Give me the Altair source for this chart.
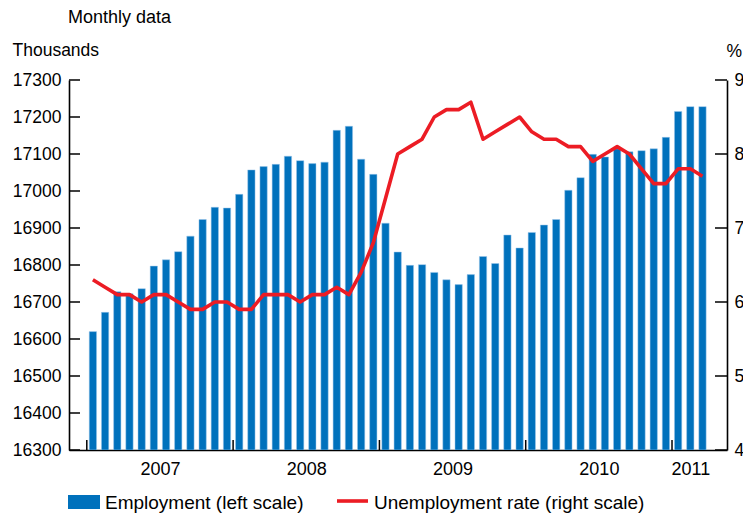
import altair as alt
import pandas as pd

# Monthly data, Jan 2007 – Mar 2011
employment = [
    16620, 16672, 16728, 16722, 16736, 16797, 16814, 16836, 16878, 16923, 16956, 16954,
    16991, 17057, 17066, 17072, 17094, 17082, 17074, 17078, 17164, 17175, 17086, 17045,
    16913, 16835, 16799, 16801, 16780, 16760, 16747, 16774, 16823, 16804, 16881, 16846,
    16888, 16908, 16923, 17002, 17036, 17099, 17092, 17114, 17106, 17109, 17114, 17145,
    17215, 17228, 17228,
]
unemployment = [
    6.3, 6.2, 6.1, 6.1, 6.0, 6.1, 6.1, 6.0, 5.9, 5.9, 6.0, 6.0,
    5.9, 5.9, 6.1, 6.1, 6.1, 6.0, 6.1, 6.1, 6.2, 6.1, 6.4, 6.8,
    7.4, 8.0, 8.1, 8.2, 8.5, 8.6, 8.6, 8.7, 8.2, 8.3, 8.4, 8.5,
    8.3, 8.2, 8.2, 8.1, 8.1, 7.9, 8.0, 8.1, 8.0, 7.8, 7.6, 7.6,
    7.8, 7.8, 7.7,
]
years = ["2007", "2008", "2009", "2010", "2011"]
year_label_pos = [6, 18, 30, 42, 49.5]
year_ticks = [0, 12, 24, 36, 48]
left_ticks = [16300, 16400, 16500, 16600, 16700, 16800, 16900, 17000, 17100, 17200, 17300]
right_ticks = [4, 5, 6, 7, 8, 9]

W, H = 658, 370
FONT = "Liberation Sans"
FS = 17.5
LFS = 19
BLUE = "#0071BC"
RED = "#EC1C24"

df = pd.DataFrame({
    "m": [i + 0.5 for i in range(len(employment))],
    "emp": employment,
    "unemp": unemployment,
    "base": [left_ticks[0]] * len(employment),
})

xscale = alt.Scale(domain=[-1.05, 52.1], nice=False, zero=False)
lscale = alt.Scale(domain=[16300, 17300], nice=False, zero=False)
rscale = alt.Scale(domain=[4, 9], nice=False, zero=False)

label_expr = " : ".join(
    f"datum.value == {p} ? '{y}'" for p, y in zip(year_label_pos, years)
) + " : ''"

xaxis = alt.Axis(
    values=year_label_pos, labelExpr=label_expr, ticks=False, grid=False,
    domainColor="black", domainWidth=1.6, labelFontSize=18, labelFont=FONT,
    labelColor="black", labelPadding=10, labelOverlap=False, labelFlush=False,
    title=None)

laxis = alt.Axis(
    values=left_ticks, format="d", ticks=False, grid=False, domainColor="black",
    domainWidth=1.6, labelFontSize=FS, labelFont=FONT, labelColor="black",
    labelPadding=8, labelFlush=False, labelOverlap=False, labelBound=False,
    title="Thousands", titleAngle=0, titleAlign="left", titleBaseline="middle",
    titleX=-57, titleY=-30, titleFontSize=FS, titleFont=FONT,
    titleFontWeight="normal", titleColor="black")

raxis = alt.Axis(
    orient="right", values=right_ticks, format="d", ticks=False, grid=False,
    domainColor="black", domainWidth=1.6, labelFontSize=FS, labelFont=FONT,
    labelColor="black", labelPadding=7, labelFlush=False, labelOverlap=False,
    labelBound=False,
    title="%", titleAngle=0, titleAlign="left", titleBaseline="middle",
    titleX=-1, titleY=-29, titleFontSize=FS, titleFont=FONT,
    titleFontWeight="normal", titleColor="black")

bars = alt.Chart(df).mark_bar(
    size=7.3, color=BLUE, stroke="#9cc6ea", strokeWidth=0.5, clip=True
).encode(
    x=alt.X("m:Q", scale=xscale, axis=xaxis),
    y=alt.Y("emp:Q", scale=lscale, axis=laxis),
    y2=alt.Y2("base:Q"),
)

lt_df = pd.DataFrame({"v": left_ticks})
lticks = alt.Chart(lt_df).mark_rule(color="black", strokeWidth=1.5).encode(
    y=alt.Y("v:Q", scale=lscale, axis=laxis),
    x=alt.value(0), x2=alt.value(11),
)

left = alt.layer(bars, lticks)

line = alt.Chart(df).mark_line(color=RED, strokeWidth=3.6, strokeJoin="round").encode(
    x=alt.X("m:Q", scale=xscale, axis=xaxis),
    y=alt.Y("unemp:Q", scale=rscale, axis=raxis),
)

rt_df = pd.DataFrame({"v": right_ticks})
rticks = alt.Chart(rt_df).mark_rule(color="black", strokeWidth=1.5).encode(
    y=alt.Y("v:Q", scale=rscale, axis=raxis),
    x=alt.value(W - 12), x2=alt.value(W),
)

right = alt.layer(line, rticks)

xt_df = pd.DataFrame({"t": year_ticks})
xticks = alt.Chart(xt_df).mark_rule(color="black", strokeWidth=1.5).encode(
    x=alt.X("t:Q", scale=xscale, axis=xaxis),
    y=alt.value(H - 10), y2=alt.value(H),
)

one = pd.DataFrame({"a": [0]})
subtitle = alt.Chart(one).mark_text(
    text="Monthly data", align="left", baseline="middle", font=FONT, fontSize=18, color="black"
).encode(x=alt.value(-1), y=alt.value(-62))

LY = 422
leg_rect = alt.Chart(one).mark_rect(color=BLUE).encode(
    x=alt.value(-1), x2=alt.value(31), y=alt.value(LY - 7), y2=alt.value(LY + 7)
)
leg_t1 = alt.Chart(one).mark_text(
    text="Employment (left scale)", align="left", baseline="middle",
    font=FONT, fontSize=LFS, color="black"
).encode(x=alt.value(36), y=alt.value(LY + 1))
leg_line = alt.Chart(one).mark_rule(color=RED, strokeWidth=3.6).encode(
    x=alt.value(268), x2=alt.value(299), y=alt.value(LY - 1)
)
leg_t2 = alt.Chart(one).mark_text(
    text="Unemployment rate (right scale)", align="left", baseline="middle",
    font=FONT, fontSize=LFS, color="black"
).encode(x=alt.value(305), y=alt.value(LY + 1))

chart = alt.layer(
    left, right, xticks, subtitle, leg_rect, leg_t1, leg_line, leg_t2
).resolve_scale(y="independent").properties(
    width=W, height=H,
    autosize=alt.AutoSizeParams(type="none"),
    padding={"left": 61, "top": 72, "right": 16, "bottom": 63},
).configure_view(stroke=None)

chart.save("out.html", embed_options={"renderer": "svg", "actions": False})
